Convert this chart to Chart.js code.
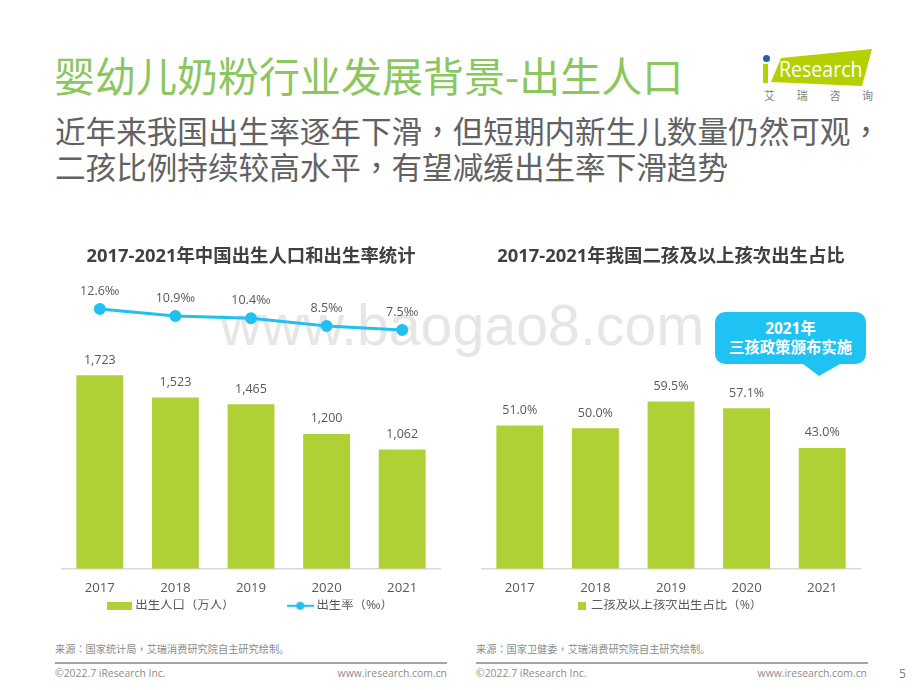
<!DOCTYPE html>
<html lang="zh-CN">
<head>
<meta charset="utf-8">
<script src="https://cdn.jsdelivr.net/npm/chart.js@4"></script>
<style>
  html, body { margin: 0; padding: 0; background: #fff; }
  body { width: 920px; height: 690px; position: relative; overflow: hidden; font-family: "Open Sans", "Noto Sans CJK SC", sans-serif; }
  .abs { position: absolute; white-space: nowrap; }
  .tc { font-family: "Noto Sans CJK TC"; }
  #heading { left: 54px; top: 46px; font-size: 41px; line-height: 56px; color: #8bc65e; font-family: "Noto Sans CJK SC"; font-weight: 400; }
  .sub { left: 55px; font-size: 30.6px; line-height: 37px; color: #626262; font-family: "Noto Sans CJK SC"; }
  #watermark { left: 220px; top: 287px; font-size: 57.3px; line-height: 76px; color: #e6e6e6; font-family: "Liberation Sans"; }
  canvas { position: absolute; }
  #callout { left: 715px; top: 312px; width: 151px; height: 52px; border-radius: 10px; background: #1fc3f3; color: #fff; font-weight: 700; font-size: 15.4px; line-height: 19px; text-align: center; padding-top: 7px; box-sizing: border-box; }
  #tail { left: 803px; top: 364px; width: 37px; height: 12px; background: #1fc3f3; clip-path: polygon(0 0, 37px 0, 16px 12px); }
  .source { top: 642px; font-size: 10.2px; line-height: 13px; color: #8c8c8c; font-family: "Noto Sans CJK SC"; }
  .rule { top: 662px; height: 1.5px; background: #a6a6a6; width: 392px; }
  .foot { top: 666px; font-size: 10.4px; line-height: 14px; color: #8c8c8c; }
  #page { left: 899px; top: 666px; font-size: 12px; line-height: 16px; color: #7f7f7f; }
  #logoBack { left: 763px; top: 49px; width: 110px; height: 40px; background: #b5d000; clip-path: polygon(18px 9px, 109px 0, 99px 37px, 8px 33px); }
  #logoText { left: 779px; top: 56px; font-size: 21px; line-height: 26px; color: #fff; transform: scaleX(.93); transform-origin: left; }
  #logoI { left: 763px; top: 64px; width: 5px; height: 19px; background: #b5d000; }
  #logoDot { left: 763px; top: 55px; width: 7px; height: 7px; border-radius: 50%; background: #1f5fb4; }
  #logoCn { left: 764px; top: 88px; font-size: 11px; line-height: 14px; color: #7f7f7f; letter-spacing: 21.7px; font-family: "Noto Sans CJK SC"; }
</style>
</head>
<body>
<div class="abs" id="heading">婴幼儿奶粉行业发展背景-出生人口</div>
<div class="abs sub" style="top:112px">近年来我国出生率逐年下滑<span class="tc" lang="zh-TW">，</span>但短期内新生儿数量仍然可观<span class="tc" lang="zh-TW">，</span></div>
<div class="abs sub" style="top:148px">二孩比例持续较高水平<span class="tc" lang="zh-TW">，</span>有望减缓出生率下滑趋势</div>

<div class="abs" id="logoBack"></div>
<div class="abs" id="logoI"></div>
<div class="abs" id="logoDot"></div>
<div class="abs" id="logoText">Research</div>
<div class="abs" id="logoCn">艾瑞咨询</div>

<div class="abs" id="watermark">www.baogao8.com</div>

<canvas id="birthChart" lang="zh-TW" width="420" height="379" style="left:40px;top:243px"></canvas>
<canvas id="shareChart" lang="zh-TW" width="420" height="379" style="left:460px;top:243px"></canvas>

<div class="abs" id="callout">2021年<br>三孩政策颁布实施</div>
<div class="abs" id="tail"></div>

<div class="abs source" style="left:55px">来源<span class="tc" lang="zh-TW">：</span>国家统计局<span class="tc" lang="zh-TW">，</span>艾瑞消费研究院自主研究绘制。</div>
<div class="abs source" style="left:476px">来源<span class="tc" lang="zh-TW">：</span>国家卫健委<span class="tc" lang="zh-TW">，</span>艾瑞消费研究院自主研究绘制。</div>
<div class="abs rule" style="left:55px"></div>
<div class="abs rule" style="left:476px"></div>
<div class="abs foot" style="left:55px">©2022.7 iResearch Inc.</div>
<div class="abs foot" style="right:473px">www.iresearch.com.cn</div>
<div class="abs foot" style="left:476px">©2022.7 iResearch Inc.</div>
<div class="abs foot" style="right:53px">www.iresearch.com.cn</div>
<div class="abs" id="page">5</div>

<script>
// data
const years = ['2017', '2018', '2019', '2020', '2021'];
const births = [1723, 1523, 1465, 1200, 1062];
const birthRate = [12.6, 10.9, 10.4, 8.5, 7.5];
const secondChildShare = [51.0, 50.0, 59.5, 57.1, 43.0];

const barGreen = '#afd136';
const lineBlue = '#22c0ee';
const textGrey = '#595959';
const fontFamily = '"Open Sans", "Noto Sans CJK SC", sans-serif';
// the TC face has the centred fullwidth brackets of the reference
const legendFamily = '"Open Sans", "Noto Sans CJK TC", sans-serif';

// little canvases used as legend swatches
function swatch(w, h, draw) {
  let c = document.createElement('canvas');
  c.width = w;
  c.height = h;
  draw(c.getContext('2d'));
  return c;
}
const barSwatch = swatch(25, 8, ctx => {
  ctx.fillStyle = barGreen;
  ctx.fillRect(0, 0, 25, 8);
});
const lineSwatch = swatch(27, 10, ctx => {
  ctx.fillStyle = lineBlue;
  ctx.fillRect(0, 4, 27, 2);
  ctx.beginPath();
  ctx.arc(13.5, 5, 4, 0, Math.PI * 2);
  ctx.fill();
});
const smallSwatch = swatch(8, 8, ctx => {
  ctx.fillStyle = barGreen;
  ctx.fillRect(0, 0, 8, 8);
});

// no datalabels plugin here, so write the values above the marks
const valueLabels = {
  id: 'valueLabels',
  afterDatasetsDraw(chart) {
    let ctx = chart.ctx;
    ctx.save();
    ctx.font = '12.5px ' + fontFamily;
    ctx.fillStyle = textGrey;
    ctx.textAlign = 'center';
    ctx.textBaseline = 'middle';
    chart.data.datasets.forEach((ds, i) => {
      chart.getDatasetMeta(i).data.forEach((el, j) => {
        ctx.fillText(ds.format(ds.data[j]), el.x, el.y - ds.labelGap);
      });
    });
    ctx.restore();
  }
};

function baseOptions(titleText, swatches, boxWidth, y) {
  return {
    responsive: false,
    animation: false,
    layout: { padding: { left: 22, right: 20, top: 0, bottom: 0 } },
    scales: Object.assign({
      x: {
        grid: { display: false },
        border: { color: '#d9d9d9', width: 1.5 },
        ticks: { color: textGrey, font: { size: 13.2, family: fontFamily }, padding: 3.5, maxRotation: 0 }
      }
    }, y),
    plugins: {
      title: {
        display: true,
        text: titleText,
        color: '#404040',
        font: { size: 18.4, weight: 'bold', family: fontFamily },
        padding: { top: 3, bottom: 12 }
      },
      tooltip: { enabled: false },
      legend: {
        position: 'bottom',
        labels: {
          usePointStyle: true,
          pointStyleWidth: boxWidth,
          padding: 0,
          color: textGrey,
          font: { size: 12.4, family: legendFamily },
          generateLabels(chart) {
            return Chart.defaults.plugins.legend.labels.generateLabels(chart).map(item => {
              item.pointStyle = swatches[item.datasetIndex];
              return item;
            });
          }
        }
      }
    }
  };
}

const birthCanvas = document.getElementById('birthChart');
const shareCanvas = document.getElementById('shareChart');
birthCanvas.getContext('2d').lang = 'zh-TW';
shareCanvas.getContext('2d').lang = 'zh-TW';

new Chart(birthCanvas, {
  type: 'bar',
  plugins: [valueLabels],
  data: {
    labels: years,
    datasets: [
      {
        type: 'bar',
        // trailing spaces hold the gap between the two legend items
        label: '出生人口（万人）\u3000\u3000\u3000\u3000\u2002\u2002',
        data: births,
        yAxisID: 'y',
        backgroundColor: barGreen,
        barPercentage: 0.62,
        categoryPercentage: 1,
        labelGap: 15,
        format: v => v.toLocaleString('en-US')
      },
      {
        type: 'line',
        label: '出生率（‰）',
        data: birthRate,
        yAxisID: 'yRate',
        borderColor: lineBlue,
        backgroundColor: lineBlue,
        borderWidth: 3,
        pointRadius: 4.5,
        tension: 0,
        labelGap: 18,
        format: v => v.toFixed(1) + '‰'
      }
    ]
  },
  options: baseOptions('2017-2021年中国出生人口和出生率统计', [barSwatch, lineSwatch], 20, {
    y: { display: false, min: 0, max: 2569 },
    yRate: { axis: 'y', display: false, min: -50.4, max: 19.64 }
  })
});

new Chart(shareCanvas, {
  type: 'bar',
  plugins: [valueLabels],
  data: {
    labels: years,
    datasets: [{
      label: '二孩及以上孩次出生占比（%）',
      data: secondChildShare,
      backgroundColor: barGreen,
      barPercentage: 0.62,
      categoryPercentage: 1,
      labelGap: 15,
      format: v => v.toFixed(1) + '%'
    }]
  },
  options: baseOptions('2017-2021年我国二孩及以上孩次出生占比', [smallSwatch], 5, {
    y: { display: false, min: 0, max: 102.7 }
  })
});
</script>
</body>
</html>
